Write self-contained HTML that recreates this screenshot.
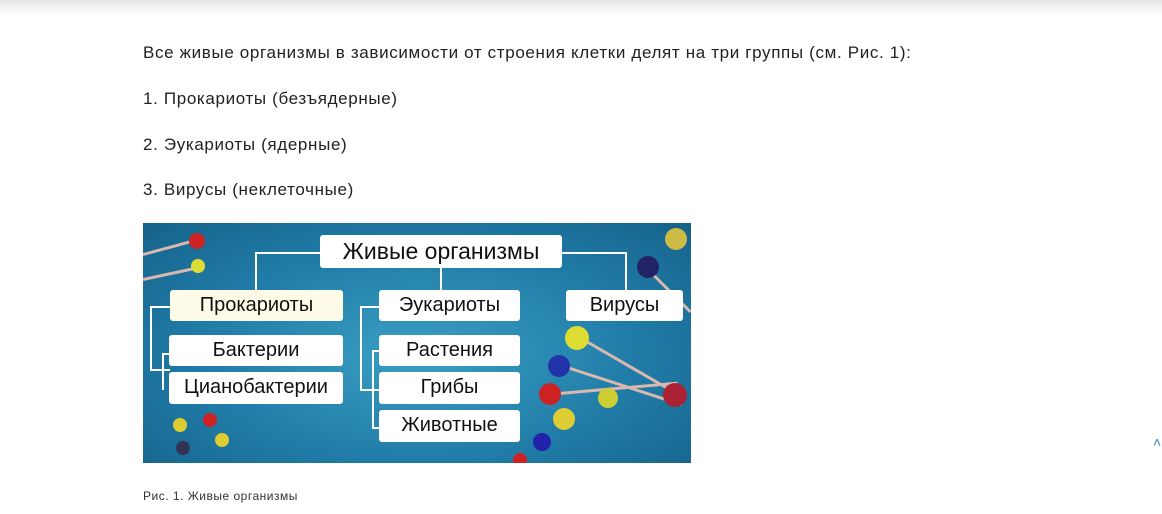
<!DOCTYPE html>
<html><head><meta charset="utf-8"><style>
body{margin:0;width:1162px;height:514px;background:#fff;font-family:"Liberation Sans",sans-serif;color:#222;position:relative;overflow:hidden}
.sh{position:absolute;left:0;top:0;width:1162px;height:14px;background:linear-gradient(#e4e4e4,#fff)}
.t{position:absolute;left:143px;font-size:17px;letter-spacing:0.65px;white-space:nowrap}
.img{position:absolute;left:143px;top:223px;width:548px;height:240px;background:radial-gradient(ellipse at 50% 55%,#3a9fc4,#1f7aa5 60%,#16628a);overflow:hidden}
.b{position:absolute;background:#fff;border-radius:3px;text-align:center;font-size:20px;color:#111;line-height:31px}
.l{position:absolute;background:#fff}
.ball{position:absolute;border-radius:50%}
.rod{position:absolute;height:3px;background:#d9b8b0;transform-origin:0 50%}
</style></head><body>
<div class="sh"></div>
<div class="t" style="top:43px">Все живые организмы в зависимости от строения клетки делят на три группы (см. Рис. 1):</div>
<div class="t" style="top:89px">1. Прокариоты (безъядерные)</div>
<div class="t" style="top:135px">2. Эукариоты (ядерные)</div>
<div class="t" style="top:180px">3. Вирусы (неклеточные)</div>
<div class="img">
<div class="rod" style="left:0;top:30px;width:60px;transform:rotate(-15deg)"></div>
<div class="rod" style="left:0;top:55px;width:60px;transform:rotate(-12deg)"></div>
<div class="rod" style="left:415px;top:140px;width:130px;transform:rotate(18deg)"></div>
<div class="rod" style="left:405px;top:170px;width:130px;transform:rotate(-5deg)"></div>
<div class="rod" style="left:440px;top:115px;width:110px;transform:rotate(30deg)"></div>
<div class="rod" style="left:505px;top:45px;width:60px;transform:rotate(45deg)"></div>
<div class="ball" style="left:46px;top:10px;width:16px;height:16px;background:#c22"></div>
<div class="ball" style="left:48px;top:36px;width:14px;height:14px;background:#dd3"></div>
<div class="ball" style="left:30px;top:195px;width:14px;height:14px;background:#dc3"></div>
<div class="ball" style="left:60px;top:190px;width:14px;height:14px;background:#c22"></div>
<div class="ball" style="left:72px;top:210px;width:14px;height:14px;background:#dc3"></div>
<div class="ball" style="left:33px;top:218px;width:14px;height:14px;background:#335"></div>
<div class="ball" style="left:522px;top:5px;width:22px;height:22px;background:#cb4"></div>
<div class="ball" style="left:494px;top:33px;width:22px;height:22px;background:#226"></div>
<div class="ball" style="left:422px;top:103px;width:24px;height:24px;background:#dd3"></div>
<div class="ball" style="left:405px;top:132px;width:22px;height:22px;background:#23a"></div>
<div class="ball" style="left:396px;top:160px;width:22px;height:22px;background:#c22"></div>
<div class="ball" style="left:410px;top:185px;width:22px;height:22px;background:#dc3"></div>
<div class="ball" style="left:455px;top:165px;width:20px;height:20px;background:#cc3"></div>
<div class="ball" style="left:520px;top:160px;width:24px;height:24px;background:#a23"></div>
<div class="ball" style="left:390px;top:210px;width:18px;height:18px;background:#22a"></div>
<div class="ball" style="left:370px;top:230px;width:14px;height:14px;background:#c22"></div>
<div class="l" style="left:112px;top:29px;width:66px;height:2px"></div>
<div class="l" style="left:112px;top:29px;width:2px;height:40px"></div>
<div class="l" style="left:418px;top:29px;width:66px;height:2px"></div>
<div class="l" style="left:482px;top:29px;width:2px;height:40px"></div>
<div class="l" style="left:297px;top:44px;width:2px;height:25px"></div>
<div class="l" style="left:7px;top:83px;width:22px;height:2px"></div>
<div class="l" style="left:7px;top:83px;width:2px;height:64px"></div>
<div class="l" style="left:7px;top:146px;width:20px;height:2px"></div>
<div class="l" style="left:19px;top:130px;width:2px;height:37px"></div>
<div class="l" style="left:19px;top:130px;width:8px;height:2px"></div>
<div class="l" style="left:217px;top:83px;width:20px;height:2px"></div>
<div class="l" style="left:217px;top:83px;width:2px;height:84px"></div>
<div class="l" style="left:217px;top:166px;width:20px;height:2px"></div>
<div class="l" style="left:229px;top:127px;width:2px;height:78px"></div>
<div class="l" style="left:229px;top:127px;width:8px;height:2px"></div>
<div class="l" style="left:229px;top:204px;width:8px;height:2px"></div>
<div class="b" style="left:177px;top:12px;width:242px;height:33px;font-size:23px;line-height:33px">Живые организмы</div>
<div class="b" style="left:27px;top:67px;width:173px;height:31px;background:#fdfbe8">Прокариоты</div>
<div class="b" style="left:236px;top:67px;width:141px;height:31px">Эукариоты</div>
<div class="b" style="left:423px;top:67px;width:117px;height:31px">Вирусы</div>
<div class="b" style="left:26px;top:112px;width:174px;height:31px">Бактерии</div>
<div class="b" style="left:26px;top:149px;width:174px;height:32px">Цианобактерии</div>
<div class="b" style="left:236px;top:112px;width:141px;height:31px">Растения</div>
<div class="b" style="left:236px;top:149px;width:141px;height:32px">Грибы</div>
<div class="b" style="left:236px;top:187px;width:141px;height:32px">Животные</div>
</div>
<div style="position:absolute;left:143px;top:489px;font-size:12px;letter-spacing:0.5px;color:#333">Рис. 1. Живые организмы</div>
<div style="position:absolute;left:1153px;top:434px;font-size:14px;color:#3a7bbf">˄</div>
</body></html>
